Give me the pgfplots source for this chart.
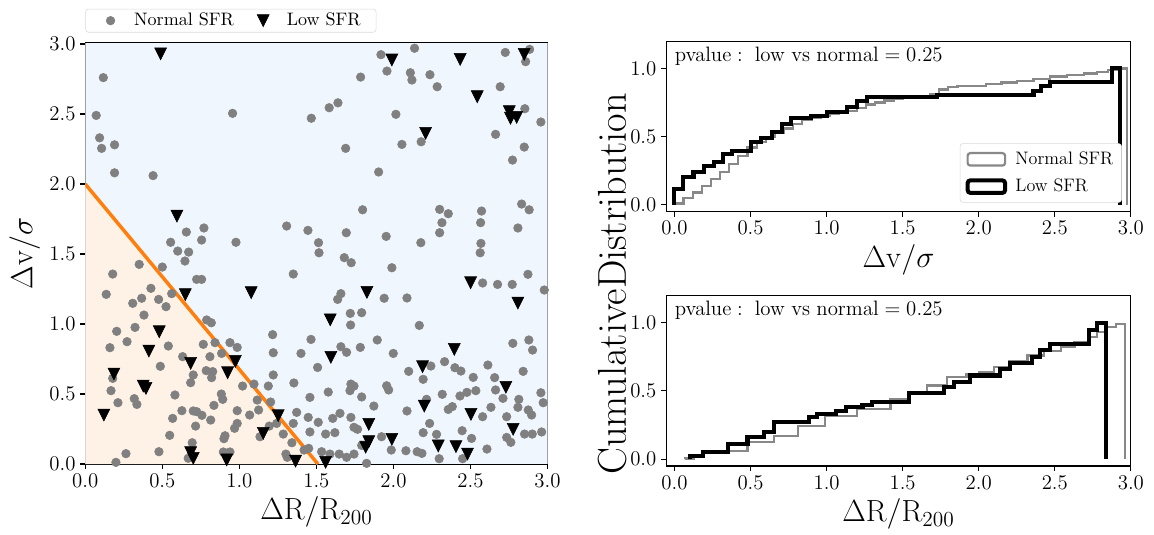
\RequirePackage{fix-cm}
\documentclass[border=0pt]{standalone}
\usepackage{graphicx}
\usepackage{pgfplots}
\usepackage{pgfplotstable}
\pgfplotsset{compat=1.18}
\definecolor{orangeC}{HTML}{FF7F0E}
\definecolor{bluebg}{HTML}{F0F6FD}
\definecolor{orangebg}{HTML}{FEF1E6}
\definecolor{ptgrey}{HTML}{808080}
\definecolor{stepgrey}{HTML}{888888}

\pgfdeclareplotmark{tridown}{%
 \pgfpathmoveto{\pgfqpoint{0pt}{-\pgfplotmarksize}}%
 \pgfpathlineto{\pgfqpoint{-\pgfplotmarksize}{\pgfplotmarksize}}%
 \pgfpathlineto{\pgfqpoint{\pgfplotmarksize}{\pgfplotmarksize}}%
 \pgfpathclose
 \pgfusepathqfillstroke}

\pgfplotstableread{
x y
0.117 2.76
0.071 2.49
0.093 2.33
0.106 2.255
0.19 2.28
0.19 2.08
0.44 2.06
0.956 2.505
1.467 2.47
1.583 2.545
1.64 2.58
1.69 2.255
1.787 2.764
1.919 2.924
1.958 2.807
2.016 2.498
2.055 2.283
1.904 2.086
2.137 2.97
2.11 2.795
2.12 2.743
2.237 2.781
2.284 2.695
2.726 2.94
2.884 2.962
2.858 2.874
2.693 2.695
2.853 2.538
2.957 2.443
2.18 2.302
2.663 2.355
2.849 2.264
2.773 2.171
0.656 1.657
0.77 1.686
0.554 1.584
0.755 1.6
0.6 1.521
0.671 1.514
0.647 1.45
0.978 1.584
1.307 1.7
1.445 1.669
1.514 1.581
1.517 1.509
1.694 1.652
1.80 1.816
1.953 1.626
1.681 1.474
1.726 1.438
1.35 1.357
1.99 1.402
0.178 1.357
0.35 1.426
0.5 1.407
0.426 1.255
0.136 1.212
0.308 1.148
0.366 1.184
0.476 1.176
0.524 1.124
0.561 1.217
0.723 1.319
0.755 1.319
0.381 1.064
1.638 1.176
1.659 1.217
1.94 1.184
1.72 1.076
1.794 1.081
0.788 1.029
0.818 1.009
2.178 1.581
2.30 1.819
2.356 1.788
2.315 1.724
2.30 1.652
2.572 1.807
2.566 1.724
2.568 1.576
2.563 1.509
2.832 1.857
2.881 1.816
2.808 1.686
2.873 1.355
2.979 1.243
2.579 1.293
2.676 1.283
2.771 1.283
2.088 1.186
1.722 0.993
0.323 0.976
0.204 0.948
0.271 0.874
0.16 0.831
0.539 0.843
0.487 0.698
0.766 0.855
0.842 0.867
0.809 0.767
0.632 0.767
0.939 0.867
0.986 0.833
0.885 0.79
0.785 0.667
0.82 0.617
0.827 0.66
0.701 0.636
0.684 0.581
1.216 0.924
1.22 0.795
1.465 0.89
1.40 0.79
1.659 0.838
1.696 0.798
1.785 0.833
1.895 0.886
1.999 0.79
1.508 0.69
1.22 0.636
1.021 0.557
1.095 0.571
1.188 0.557
1.116 0.457
1.203 0.443
1.354 0.579
1.458 0.476
1.577 0.514
1.724 0.571
1.744 0.557
1.718 0.524
1.794 0.479
1.873 0.414
1.956 0.559
1.969 0.529
0.178 0.612
0.167 0.524
0.318 0.467
0.335 0.426
0.212 0.438
0.582 0.493
0.883 0.5
0.892 0.462
0.835 0.419
0.627 0.381
0.701 0.379
0.723 0.374
0.757 0.348
0.567 0.326
0.814 0.314
0.986 0.381
1.067 0.35
1.125 0.386
0.716 0.271
0.986 0.29
0.969 0.255
1.134 0.195
0.548 0.205
0.907 0.202
0.9 0.181
1.194 0.271
1.242 0.29
1.35 0.29
1.372 0.369
1.447 0.333
1.458 0.229
1.512 0.298
1.56 0.214
1.62 0.224
1.653 0.362
1.606 0.326
1.724 0.333
1.744 0.262
1.767 0.248
1.923 0.195
1.986 0.1
1.794 0.133
1.826 0.005
1.744 0.071
1.696 0.048
1.648 0.071
1.588 0.071
1.534 0.088
1.45 0.112
1.42 0.1
1.341 0.152
1.285 0.214
1.302 0.071
1.311 0.048
0.668 0.041
0.694 0.152
0.478 0.088
0.264 0.074
0.199 0.012
0.896 0.086
0.939 0.086
2.168 0.99
2.775 0.862
2.879 0.886
2.903 0.814
2.332 0.731
2.243 0.7
2.099 0.662
2.193 0.605
2.399 0.688
2.438 0.664
2.518 0.619
2.613 0.707
2.657 0.617
2.842 0.662
2.663 0.529
2.535 0.524
2.477 0.512
2.432 0.486
2.317 0.498
2.711 0.469
2.814 0.462
2.808 0.405
2.957 0.509
2.972 0.438
2.875 0.386
2.897 0.35
2.215 0.462
2.088 0.379
2.382 0.41
2.356 0.39
2.633 0.405
2.579 0.338
2.735 0.338
2.851 0.214
2.901 0.214
2.962 0.229
2.735 0.19
2.762 0.155
2.235 0.29
2.193 0.224
2.28 0.212
2.446 0.238
2.507 0.183
2.297 0.038
2.449 0.038
2.607 0.107
2.081 0.095
2.154 0.088
2.185 0.076
}\normaltab

\pgfplotstableread{
x y
0.489 2.93
1.99 2.886
2.433 2.89
2.544 2.624
2.752 2.517
2.80 2.476
2.76 2.47
2.849 2.926
2.209 2.362
0.595 1.771
0.649 1.21
1.077 1.224
1.828 1.226
1.59 1.03
2.501 1.295
2.808 1.15
0.48 0.945
0.413 0.807
0.684 0.719
0.974 0.733
0.924 0.652
1.594 0.762
2.395 0.819
2.189 0.695
0.186 0.643
0.376 0.557
0.394 0.54
0.121 0.35
1.155 0.219
1.252 0.345
1.84 0.283
1.84 0.16
1.82 0.12
1.99 0.176
2.2 0.414
2.503 0.355
2.73 0.548
2.777 0.248
2.291 0.129
2.406 0.124
2.481 0.071
0.684 0.081
0.701 0.041
0.918 0.029
1.365 0.021
1.56 0.012
}\lowtab

\pgfplotsset{
  mystyle/.style={
    scale only axis,
    tick pos=left,
    tick align=outside,
    major tick length=3.5pt,
    axis line style={line width=0.8pt},
    every tick/.style={black, line width=0.8pt},
    tick label style={font=\fontsize{15}{18}\selectfont},
    label style={font=\fontsize{22}{26}\selectfont},
    xticklabel style={/pgf/number format/fixed, /pgf/number format/fixed zerofill, /pgf/number format/precision=1},
    yticklabel style={/pgf/number format/fixed, /pgf/number format/fixed zerofill, /pgf/number format/precision=1},
  }
}
\newcommand{\legfont}{\fontsize{13}{15}\selectfont}

\begin{document}
\begin{tikzpicture}
\useasboundingbox (0,0) rectangle (830.88pt,385.2pt);

% ---------------- left scatter ----------------
\begin{axis}[mystyle,
  at={(61.4pt,51.1pt)}, anchor=south west,
  width=332.8pt, height=303.4pt,
  xmin=0, xmax=3, ymin=0, ymax=3.01,
  xtick={0,0.5,1,1.5,2,2.5,3}, ytick={0,0.5,1,1.5,2,2.5,3},
  xlabel={$\Delta\mathrm{R}/\mathrm{R}_{200}$},
  ylabel={$\Delta\mathrm{v}/\sigma$},
  legend columns=2,
  legend style={at={(0,1.024)}, anchor=south west,
    draw=black!15, rounded corners=2pt,
    inner xsep=9pt, inner ysep=1pt},
  legend image code/.code={\path[draw=none, fill=none] (0pt,-5pt) rectangle (24pt,5pt); \draw[sharp corners, #1] plot coordinates {(9pt,0pt)};},
]
\addplot[fill=bluebg, draw=none, forget plot] coordinates {(0,0) (3,0) (3,3.01) (0,3.01)} -- cycle;
\addplot[fill=orangebg, draw=none, forget plot] coordinates {(0,0) (0,2) (1.51,0)} -- cycle;
\addplot[orangeC, line width=2.5pt, forget plot] coordinates {(0,2) (1.51,0)};
\addplot[only marks, mark=*, mark size=3.1pt, ptgrey, mark options={draw=ptgrey, fill=ptgrey}] table[x=x,y=y] {\normaltab};
\addlegendentry{\scalebox{1.3}{Normal SFR}\hspace*{10pt}}
\addplot[only marks, mark=tridown, mark size=4.3pt, black, mark options={draw=black, fill=black}] table[x=x,y=y] {\lowtab};
\addlegendentry{\scalebox{1.3}{Low SFR}}
\end{axis}

% ---------------- top right CDF ----------------
\begin{axis}[mystyle,
  at={(479.6pt,232.8pt)}, anchor=south west,
  width=334.6pt, height=122.8pt,
  xmin=-0.055, xmax=3, ymin=-0.05, ymax=1.2,
  xtick={0,0.5,1,1.5,2,2.5,3}, ytick={0,0.5,1},
  xlabel={$\Delta\mathrm{v}/\sigma$},
  legend style={at={(1,0)}, anchor=south east, xshift=-6.5pt, yshift=6.5pt,
    font=\legfont, nodes={font=\legfont}, draw=black!15, rounded corners=2pt, row sep=5pt,
    inner xsep=4pt, inner ysep=4pt,
    /tikz/every odd column/.append style={column sep=4pt}},
  legend cell align=left,
  legend image code/.code={\draw[#1] (0pt,-4.5pt) rectangle (27pt,4.5pt);},
]
\addplot[const plot, stepgrey, line width=1.6pt] coordinates {
(0.0,0) (0.0,0.01) (0.06,0.05) (0.12,0.09) (0.18,0.14) (0.24,0.19) (0.30,0.24) (0.36,0.30)
(0.42,0.36) (0.48,0.42) (0.54,0.46) (0.60,0.50) (0.66,0.53) (0.72,0.56) (0.78,0.59)
(0.84,0.62) (0.90,0.64) (0.96,0.655) (1.02,0.665) (1.08,0.675) (1.14,0.69) (1.20,0.71)
(1.26,0.735) (1.32,0.75) (1.38,0.765) (1.44,0.775) (1.50,0.785) (1.56,0.79) (1.62,0.80)
(1.68,0.815) (1.74,0.845) (1.80,0.865) (1.86,0.872) (1.98,0.873) (2.05,0.885) (2.15,0.897)
(2.25,0.909) (2.36,0.925) (2.47,0.941) (2.58,0.952) (2.69,0.963) (2.78,0.975) (2.85,0.99)
(2.91,1.0) (2.975,1.0) (2.975,0)};
\addlegendentry{\legfont Normal SFR}
\addplot[const plot, black, line width=2.9pt] coordinates {
(0.0,0) (0.0,0.115) (0.059,0.205) (0.125,0.242) (0.191,0.286) (0.257,0.311) (0.319,0.372)
(0.378,0.396) (0.50,0.457) (0.566,0.487) (0.642,0.531) (0.708,0.592) (0.763,0.633)
(0.895,0.653) (1.004,0.677) (1.136,0.714) (1.20,0.762) (1.267,0.787) (1.727,0.804)
(2.36,0.836) (2.41,0.873) (2.47,0.902) (2.876,1.0) (2.93,1.0) (2.93,0)};
\addlegendentry{\legfont Low SFR}
\node[anchor=base west, inner sep=0pt, font=\fontsize{15}{18}\selectfont] at (axis cs:0,1.05) {$\mathrm{pvalue:\ low\ vs\ normal=0.25}$};
\end{axis}

% ---------------- bottom right CDF ----------------
\begin{axis}[mystyle,
  at={(479.6pt,49.7pt)}, anchor=south west,
  width=334.6pt, height=122.8pt,
  xmin=-0.055, xmax=3, ymin=-0.05, ymax=1.2,
  xtick={0,0.5,1,1.5,2,2.5,3}, ytick={0,0.5,1},
  xlabel={$\Delta\mathrm{R}/\mathrm{R}_{200}$},
]
\addplot[const plot, stepgrey, line width=1.6pt] coordinates {
(0.07,0) (0.07,0.005) (0.13,0.02) (0.19,0.049) (0.35,0.061) (0.48,0.123) (0.655,0.171)
(0.81,0.245) (0.99,0.319) (1.2,0.368) (1.42,0.441) (1.55,0.49) (1.66,0.539) (1.79,0.6)
(1.92,0.62) (2.0,0.64) (2.1,0.674) (2.2,0.72) (2.32,0.76) (2.43,0.79) (2.54,0.82) (2.63,0.86)
(2.72,0.895) (2.78,0.93) (2.84,0.968) (2.9,0.99) (2.963,0.99) (2.963,0)};
\addplot[const plot, black, line width=2.9pt] coordinates {
(0.103,0) (0.103,0.02) (0.19,0.049) (0.35,0.11) (0.48,0.159) (0.59,0.196) (0.655,0.27)
(0.886,0.306) (0.94,0.331) (1.06,0.355) (1.126,0.38) (1.236,0.397) (1.3,0.421) (1.541,0.485)
(1.77,0.527) (1.84,0.564) (1.944,0.613) (2.141,0.662) (2.207,0.706) (2.35,0.748) (2.40,0.797)
(2.47,0.846) (2.722,0.943) (2.776,1.0) (2.836,1.0) (2.836,0)};
\node[anchor=base west, inner sep=0pt, font=\fontsize{15}{18}\selectfont] at (axis cs:0,1.05) {$\mathrm{pvalue:\ low\ vs\ normal=0.25}$};
\end{axis}

\node[rotate=90, font=\fontsize{29}{34}\selectfont] at (440.6pt,181pt) {$\mathrm{CumulativeDistribution}$};
\end{tikzpicture}
\end{document}
